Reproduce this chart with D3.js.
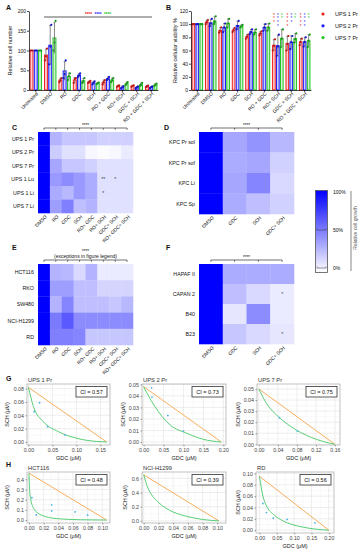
<!DOCTYPE html>
<html>
<head>
<meta charset="utf-8">
<script src="https://cdn.jsdelivr.net/npm/d3@7"></script>
<style>
  body { margin: 0; background: #fff; }
  svg { display: block; font-family: "Liberation Sans", Arial, sans-serif; }
  text { fill: #111; }
</style>
</head>
<body>
<svg id="fig" width="362" height="550"></svg>
<script>
// ---------------- Data ----------------

// Panels A / B
const treatments = ["Untreated", "DMSO", "RO", "GDC", "SCH", "RO + GDC", "RO+ SCH", "GDC + SCH", "RO + GDC + SCH"];
const lineNames = ["UPS 1 Pr", "UPS 2 Pr", "UPS 7 Pr"];
const lineColors = ["#f0201e", "#1c1cff", "#22c422"];

// relative cell number, three replicates per treatment
const cellNumberUps1 = [[100, 100, 100], [75, 85, 105], [20, 25, 30], [18, 28, 30], [18, 20, 23], [14, 20, 25], [8, 10, 12], [8, 10, 12], [7, 9, 11]];
const cellNumberUps2 = [[100, 100, 100], [65, 110, 165], [30, 40, 75], [33, 37, 42], [14, 18, 22], [25, 28, 33], [4, 7, 10], [4, 6, 9], [5, 7, 9]];
const cellNumberUps7 = [[100, 100, 100], [100, 120, 175], [25, 35, 42], [18, 22, 30], [15, 17, 19], [20, 25, 30], [12, 16, 20], [10, 13, 18], [10, 13, 16]];
const cellNumberTicks = [0, 50, 100, 150, 200];

// relative cellular viability %, three replicates per treatment
const viabilityUps1 = [[100, 100, 100], [100, 103, 106], [87, 90, 95], [88, 91, 94], [78, 81, 84], [83, 86, 89], [60, 67, 77], [60, 70, 82], [68, 73, 78]];
const viabilityUps2 = [[100, 100, 100], [97, 101, 108], [88, 95, 101], [92, 97, 105], [85, 88, 92], [90, 95, 100], [52, 66, 84], [62, 73, 82], [66, 73, 80]];
const viabilityUps7 = [[100, 100, 100], [100, 103, 112], [95, 101, 108], [95, 97, 99], [84, 87, 92], [90, 95, 101], [65, 78, 92], [72, 77, 86], [65, 75, 84]];
const viabilityTicks = [0, 20, 40, 60, 80, 100, 120];
// number of stars above the last three groups (red, blue, green)
const viabilityStars = [[3, 4, 2], [4, 3, 2], [4, 4, 2]];

// Heatmaps (relative cell growth %)
const heatCols8 = ["DMSO", "RO", "GDC", "SCH", "RO+ GDC", "RO+ SCH", "GDC+ SCH", "RO+ GDC+ SCH"];
const heatCols4 = ["DMSO", "GDC", "SCH", "GDC+ SCH"];

const upsRows = ["UPS 1 Pr", "UPS 2 Pr", "UPS 7 Pr", "UPS 1 Lu", "UPS 1 Li", "UPS 7 Li"];
const upsGrowth = [
  [100, 30, 22, 22, 22, 18, 18, 18],
  [100, 20, 12, 12, 3, 1, 3, 8],
  [100, 35, 22, 22, 18, 12, 12, 12],
  [100, 40, 45, 40, 32, 12, 12, 12],
  [100, 33, 28, 40, 32, 12, 12, 12],
  [100, 38, 50, 25, 30, 12, 12, 12]
];
const upsMarks = [[3, 5, "**"], [3, 6, "*"], [4, 5, "*"]];

const kpcRows = ["KPC Pr sol", "KPC Pr sof", "KPC Li", "KPC Sp"];
const kpcGrowth = [
  [100, 35, 42, 28],
  [100, 33, 35, 18],
  [100, 35, 48, 15],
  [100, 33, 25, 18]
];

const humanRows = ["HCT116", "RKO", "SW480", "NCI-H1299", "RD"];
const humanGrowth = [
  [100, 30, 28, 15, 30, 8, 8, 8],
  [100, 38, 38, 25, 25, 17, 17, 17],
  [100, 30, 48, 25, 25, 25, 22, 28],
  [100, 52, 65, 45, 45, 45, 45, 45],
  [100, 50, 50, 48, 22, 22, 22, 22]
];

const pancRows = ["HAPAF II", "CAPAN 2", "B40", "B23"];
const pancGrowth = [
  [100, 33, 33, 33],
  [100, 25, 15, 8],
  [100, 10, 45, 8],
  [100, 22, 15, 10]
];
const pancMarks = [[1, 3, "*"], [3, 3, "*"]];

const legendTicks = [100, 50, 0];

// Isobolograms (GDC on x, SCH on y, µM)
const isoNames = ["UPS 1 Pr", "UPS 2 Pr", "UPS 7 Pr", "HCT116", "NCI-H1299", "RD"];
const isoCI = ["0.57", "0.73", "0.75", "0.48", "0.39", "0.56"];
const gdcAlone = [0.163, 0.195, 0.16, 0.106, 0.102, 0.2];
const schAlone = [0.082, 0.048, 0.05, 0.46, 0.65, 0.095];
const isoCurves = [
  [[0, 0.082], [0.0105, 0.053], [0.031, 0.0305], [0.0625, 0.0155], [0.101, 0.0055], [0.1425, 0.0008], [0.163, 0]],
  [[0, 0.048], [0.026, 0.032], [0.067, 0.0147], [0.109, 0.0075], [0.15, 0.0023], [0.195, 0]],
  [[0, 0.05], [0.016, 0.037], [0.041, 0.025], [0.079, 0.0129], [0.121, 0.0045], [0.16, 0]],
  [[0, 0.46], [0.0008, 0.3], [0.0025, 0.2], [0.006, 0.12], [0.012, 0.07], [0.022, 0.035], [0.04, 0.013], [0.07, 0.003], [0.106, 0]],
  [[0, 0.65], [0.005, 0.48], [0.01, 0.38], [0.02, 0.26], [0.03, 0.18], [0.04, 0.125], [0.06, 0.06], [0.08, 0.02], [0.102, 0]],
  [[0, 0.095], [0.01, 0.06], [0.02, 0.043], [0.04, 0.028], [0.06, 0.019], [0.08, 0.013], [0.12, 0.006], [0.16, 0.002], [0.2, 0]]
];
const isoPoints = [
  [[0.023, 0.059], [0.012, 0.0455], [0.04, 0.023], [0.0765, 0.0105]],
  [[0.02, 0.047], [0.021, 0.039], [0.061, 0.023], [0.1, 0.0095]],
  [[0.043, 0.024], [0.081, 0.012]],
  [[0.004, 0.22], [0.01, 0.05], [0.031, 0.15], [0.031, 0.09], [0.063, 0.08], [0.08, 0.05]],
  [],
  [[0.01, 0.047], [0.02, 0.031], [0.04, 0.021], [0.08, 0.019], [0.16, 0.013]]
];
const isoXTicks = [
  [0, 0.05, 0.10, 0.15],
  [0, 0.05, 0.10, 0.15, 0.20],
  [0, 0.04, 0.08, 0.12, 0.16],
  [0, 0.02, 0.04, 0.06, 0.08, 0.10],
  [0, 0.02, 0.04, 0.06, 0.08, 0.10],
  [0, 0.05, 0.10, 0.15, 0.20]
];
const isoYTicks = [
  [0, 0.02, 0.04, 0.06, 0.08],
  [0, 0.01, 0.02, 0.03, 0.04, 0.05],
  [0, 0.01, 0.02, 0.03, 0.04, 0.05],
  [0, 0.1, 0.2, 0.3, 0.4],
  [0, 0.2, 0.4, 0.6],
  [0, 0.02, 0.04, 0.06, 0.08, 0.10]
];

// ---------------- Layout ----------------
const svg = d3.select("#fig");
const heatColor = d3.scaleLinear().domain([0, 100]).range(["#ffffff", "#0000ff"]);

function letter(t, x, y) {
  svg.append("text").attr("x", x).attr("y", y).text(t)
      .style("font-weight", "bold").style("font-size", "7px");
}

// ---------------- Bar panels ----------------
function barPanel(cfg) {
  const g = svg.append("g");
  const x = d3.scaleBand().domain(treatments).range(cfg.xRange).paddingInner(0.14).paddingOuter(0.04);
  const xs = d3.scaleBand().domain(d3.range(3)).range([0, x.bandwidth()]).paddingInner(0.08);
  const y = d3.scaleLinear().domain(cfg.yDomain).range(cfg.yRange);

  cfg.series.forEach((reps, s) => {
    const c = lineColors[s];
    const dark = d3.color(c).darker(0.7);
    reps.forEach((vals, i) => {
      const m = d3.mean(vals), sd = d3.deviation(vals) || 0;
      const x0 = x(treatments[i]) + xs(s), w = xs.bandwidth(), cx = x0 + w / 2;
      g.append("rect")
          .attr("x", x0 + 0.5).attr("y", y(m))
          .attr("width", w - 1).attr("height", y(0) - y(m))
          .attr("fill", c).attr("fill-opacity", 0.22)
          .attr("stroke", c).attr("stroke-width", 1);
      // error bar
      if (sd > 0) {
        g.append("line").attr("x1", cx).attr("x2", cx).attr("y1", y(m - sd)).attr("y2", y(m + sd))
            .attr("stroke", "#555").attr("stroke-width", 0.7);
        g.append("line").attr("x1", cx - 1).attr("x2", cx + 1).attr("y1", y(m + sd)).attr("y2", y(m + sd))
            .attr("stroke", "#555").attr("stroke-width", 0.7);
      }
      // replicates
      vals.forEach((v, k) => {
        g.append("circle").attr("cx", cx + (k - 1) * 1.1).attr("cy", y(v)).attr("r", 1.1)
            .attr("fill", dark);
      });
    });
  });

  g.append("g").attr("transform", `translate(${cfg.xRange[0]},0)`)
      .call(d3.axisLeft(y).tickValues(cfg.ticks).tickSize(2).tickSizeOuter(0))
      .call(a => a.selectAll("text").style("font-size", "5px").attr("x", -3))
      .call(a => a.selectAll("path,line").attr("stroke-width", 0.7));

  g.append("g").attr("transform", `translate(0,${y(0)})`)
      .call(d3.axisBottom(x).tickSize(2).tickSizeOuter(0))
      .call(a => a.selectAll("path,line").attr("stroke-width", 0.7))
      .call(a => a.selectAll("text")
          .attr("x", -1).attr("y", 3).attr("dy", "0.35em")
          .attr("transform", "rotate(-45)")
          .style("text-anchor", "end").style("font-size", "5px"));

  g.append("text")
      .attr("transform", `translate(${cfg.labelX},${(cfg.yRange[0] + cfg.yRange[1]) / 2}) rotate(-90)`)
      .attr("text-anchor", "middle").style("font-size", "5.5px").text(cfg.label);

  return { x, y, xs };
}

letter("A", 6, 10);
barPanel({
  series: [cellNumberUps1, cellNumberUps2, cellNumberUps7],
  xRange: [29, 158], yDomain: [0, 200], yRange: [90, 11],
  ticks: cellNumberTicks, label: "Relative cell number", labelX: 12
});
// significance line over treatments
svg.append("line").attr("x1", 44).attr("x2", 152).attr("y1", 17).attr("y2", 17)
    .attr("stroke", "#333").attr("stroke-width", 0.8);
lineColors.forEach((c, i) => {
  svg.append("text").attr("x", 88.5 + i * 9.5).attr("y", 15.5).attr("text-anchor", "middle")
      .style("font-size", "4.5px").style("font-weight", "bold").style("fill", c).text("****");
});

letter("B", 166, 10);
const bScales = barPanel({
  series: [viabilityUps1, viabilityUps2, viabilityUps7],
  xRange: [191, 311], yDomain: [0, 120], yRange: [90, 11],
  ticks: viabilityTicks, label: "Relative cellular viability %", labelX: 177
});
viabilityStars.forEach((counts, gi) => {
  const t = treatments[6 + gi];
  counts.forEach((n, s) => {
    const cx = bScales.x(t) + bScales.xs(s) + bScales.xs.bandwidth() / 2;
    d3.range(n).forEach(k => {
      svg.append("text").attr("x", cx).attr("y", 16.5 + k * 3.8).attr("text-anchor", "middle")
          .style("font-size", "4.5px").style("fill", lineColors[s]).text("*");
    });
  });
});
// legend
lineNames.forEach((n, i) => {
  svg.append("circle").attr("cx", 323).attr("cy", 14 + i * 11.8).attr("r", 1.6).attr("fill", lineColors[i]);
  svg.append("text").attr("x", 335).attr("y", 14 + i * 11.8).attr("dy", "0.35em")
      .style("font-size", "5.5px").text(n);
});

// ---------------- Heatmaps ----------------
function heatPanel(cfg) {
  const g = svg.append("g");
  const x = d3.scaleBand().domain(cfg.cols).range(cfg.xRange);
  const y = d3.scaleBand().domain(cfg.rows).range(cfg.yRange);

  cfg.values.forEach((row, r) => row.forEach((v, c) => {
    g.append("rect")
        .attr("x", x(cfg.cols[c])).attr("y", y(cfg.rows[r]))
        .attr("width", x.bandwidth() + 0.3).attr("height", y.bandwidth() + 0.3)
        .attr("fill", heatColor(v));
  }));

  cfg.rows.forEach(r => {
    g.append("text").attr("x", cfg.xRange[0] - 4).attr("y", y(r) + y.bandwidth() / 2)
        .attr("dy", "0.35em").attr("text-anchor", "end").style("font-size", "5.3px").text(r);
  });
  cfg.cols.forEach(c => {
    const cx = x(c) + x.bandwidth() / 2;
    g.append("text").attr("transform", `translate(${cx + 2},${cfg.yRange[1] + 3}) rotate(-45)`)
        .attr("text-anchor", "end").attr("dy", "0.35em").style("font-size", "4.8px").text(c);
  });

  (cfg.marks || []).forEach(([r, c, t]) => {
    g.append("text").attr("x", x(cfg.cols[c]) + x.bandwidth() / 2).attr("y", y(cfg.rows[r]) + y.bandwidth() / 2 + 2)
        .attr("text-anchor", "middle").style("font-size", "5px").style("fill", "#333").text(t);
  });

  // bracket
  const by = cfg.yRange[0] - 4;
  const x1 = x(cfg.cols[0]) + x.bandwidth() / 2;
  const x2 = x(cfg.cols[cfg.cols.length - 1]) + x.bandwidth() / 2;
  g.append("line").attr("x1", x1).attr("x2", x2).attr("y1", by).attr("y2", by)
      .attr("stroke", "#333").attr("stroke-width", 0.7);
  cfg.cols.forEach(c => {
    const cx = x(c) + x.bandwidth() / 2;
    g.append("line").attr("x1", cx).attr("x2", cx).attr("y1", by).attr("y2", by + 1.8)
        .attr("stroke", "#333").attr("stroke-width", 0.7);
  });
  const mid = (x1 + x2) / 2;
  if (cfg.note) {
    g.append("text").attr("x", mid).attr("y", by - 2).attr("text-anchor", "middle")
        .style("font-size", "5px").text(cfg.note);
    g.append("text").attr("x", mid).attr("y", by - 7.5).attr("text-anchor", "middle")
        .style("font-size", "4.5px").text("****");
  } else {
    g.append("text").attr("x", mid).attr("y", by - 1.5).attr("text-anchor", "middle")
        .style("font-size", "4.5px").text("****");
  }
}

letter("C", 12, 130);
heatPanel({ cols: heatCols8, rows: upsRows, values: upsGrowth, marks: upsMarks,
  xRange: [38, 133], yRange: [132, 213] });

letter("D", 164, 130);
heatPanel({ cols: heatCols4, rows: kpcRows, values: kpcGrowth,
  xRange: [199, 294], yRange: [132, 214] });

letter("E", 12, 250);
heatPanel({ cols: heatCols8, rows: humanRows, values: humanGrowth, note: "(exceptions in figure legend)",
  xRange: [38, 133], yRange: [264, 345] });

letter("F", 166, 250);
heatPanel({ cols: heatCols4, rows: pancRows, values: pancGrowth, marks: pancMarks,
  xRange: [199, 294], yRange: [264, 344] });

// colour legend
const grad = svg.append("defs").append("linearGradient").attr("id", "growthGrad")
    .attr("x1", 0).attr("x2", 0).attr("y1", 0).attr("y2", 1);
grad.append("stop").attr("offset", "0%").attr("stop-color", heatColor(100));
grad.append("stop").attr("offset", "100%").attr("stop-color", heatColor(0));
const ly = d3.scaleLinear().domain([0, 100]).range([268, 192]);
svg.append("rect").attr("x", 315.5).attr("y", 190.5).attr("width", 12).attr("height", 82)
    .attr("fill", "url(#growthGrad)").attr("stroke", "#555").attr("stroke-width", 0.8);
legendTicks.forEach(v => {
  svg.append("text").attr("x", 333).attr("y", ly(v)).attr("dy", "0.35em")
      .style("font-size", "5px").text(v + "%");
  if (v < 100) {
    svg.append("path").attr("d", `M317,${ly(v) - 1.5}V${ly(v)}H326V${ly(v) - 1.5}`)
        .attr("fill", "none").attr("stroke", "#333").attr("stroke-width", 0.5);
  }
});
svg.append("line").attr("x1", 351).attr("x2", 351).attr("y1", 191).attr("y2", 271)
    .attr("stroke", "#555").attr("stroke-width", 0.7);
svg.append("text").attr("transform", "translate(357,228) rotate(-90)").attr("text-anchor", "middle")
    .style("font-size", "5px").style("fill", "#555").text("Relative cell growth");

// ---------------- Isobolograms ----------------
const isoLayout = [
  { box: [27, 110, 384, 445], xd: [-0.003, 0.17], yd: [-0.0045, 0.087], fx: ".2f", fy: ".2f", yl: 9 },
  { box: [142, 226, 384, 445], xd: [-0.004, 0.2068], yd: [-0.0026, 0.0503], fx: ".2f", fy: ".2f", yl: 125 },
  { box: [257, 340, 384, 445], xd: [-0.004, 0.1707], yd: [-0.0006, 0.0545], fx: ".2f", fy: ".2f", yl: 240 },
  { box: [27, 110, 472, 523], xd: [-0.0027, 0.1105], yd: [-0.029, 0.472], fx: ".2f", fy: ".1f", yl: 9 },
  { box: [142, 226, 472, 523], xd: [-0.0024, 0.1118], yd: [-0.03, 0.69], fx: ".2f", fy: ".1f", yl: 127 },
  { box: [256, 334, 472, 533], xd: [-0.01, 0.215], yd: [-0.005, 0.1025], fx: ".2f", fy: ".2f", yl: 240 }
];

function mids(t) { return d3.pairs(t).map(([a, b]) => (a + b) / 2); }

function isoPanel(i) {
  const L = isoLayout[i];
  const [bx0, bx1, by0, by1] = L.box;
  const x = d3.scaleLinear().domain(L.xd).range([bx0, bx1]);
  const y = d3.scaleLinear().domain(L.yd).range([by1, by0]);
  const g = svg.append("g");

  g.append("rect").attr("x", bx0).attr("y", by0).attr("width", bx1 - bx0).attr("height", by1 - by0).attr("fill", "#fff");
  mids(isoXTicks[i]).forEach(v => g.append("line").attr("x1", x(v)).attr("x2", x(v)).attr("y1", by0).attr("y2", by1)
      .attr("stroke", "#f0f0f0").attr("stroke-width", 0.4));
  mids(isoYTicks[i]).forEach(v => g.append("line").attr("y1", y(v)).attr("y2", y(v)).attr("x1", bx0).attr("x2", bx1)
      .attr("stroke", "#f0f0f0").attr("stroke-width", 0.4));
  isoXTicks[i].forEach(v => g.append("line").attr("x1", x(v)).attr("x2", x(v)).attr("y1", by0).attr("y2", by1)
      .attr("stroke", "#e2e2e2").attr("stroke-width", 0.6));
  isoYTicks[i].forEach(v => g.append("line").attr("y1", y(v)).attr("y2", y(v)).attr("x1", bx0).attr("x2", bx1)
      .attr("stroke", "#e2e2e2").attr("stroke-width", 0.6));

  // additive line
  g.append("line").attr("x1", x(0)).attr("y1", y(schAlone[i])).attr("x2", x(gdcAlone[i])).attr("y2", y(0))
      .attr("stroke", "#f5a64a").attr("stroke-width", 0.9);
  // fitted isobole
  g.append("path").datum(isoCurves[i])
      .attr("d", d3.line().x(d => x(d[0])).y(d => y(d[1])).curve(d3.curveMonotoneX))
      .attr("fill", "none").attr("stroke", "#45c867").attr("stroke-width", 0.9);
  isoPoints[i].forEach(p => g.append("circle").attr("cx", x(p[0])).attr("cy", y(p[1])).attr("r", 0.9)
      .attr("fill", "#4fb6e8"));

  g.append("rect").attr("x", bx0).attr("y", by0).attr("width", bx1 - bx0).attr("height", by1 - by0)
      .attr("fill", "none").attr("stroke", "#a8a8a8").attr("stroke-width", 0.7);

  g.append("g").attr("transform", `translate(0,${by1})`)
      .call(d3.axisBottom(x).tickValues(isoXTicks[i]).tickFormat(d3.format(L.fx)).tickSize(1.5))
      .call(a => a.select(".domain").remove())
      .call(a => a.selectAll("line").attr("stroke", "#444").attr("stroke-width", 0.5))
      .call(a => a.selectAll("text").attr("y", 3).style("font-size", "5.3px").style("fill", "#444"));
  g.append("g").attr("transform", `translate(${bx0},0)`)
      .call(d3.axisLeft(y).tickValues(isoYTicks[i]).tickFormat(d3.format(L.fy)).tickSize(1.5))
      .call(a => a.select(".domain").remove())
      .call(a => a.selectAll("line").attr("stroke", "#444").attr("stroke-width", 0.5))
      .call(a => a.selectAll("text").attr("x", -3).style("font-size", "5.3px").style("fill", "#444"));

  g.append("text").attr("x", (bx0 + bx1) / 2).attr("y", by1 + 15).attr("text-anchor", "middle")
      .style("font-size", "5.5px").style("fill", "#222").text("GDC (\u03bcM)");
  g.append("text").attr("transform", `translate(${L.yl},${(by0 + by1) / 2}) rotate(-90)`)
      .attr("text-anchor", "middle").style("font-size", "5.5px").style("fill", "#222").text("SCH (\u03bcM)");
  g.append("text").attr("x", bx0 + 1).attr("y", by0 - 2).style("font-size", "5.8px").style("fill", "#333")
      .text(isoNames[i]);

  // CI box
  const cw = 31, ch = 10.5;
  g.append("rect").attr("x", bx1 - cw - 3).attr("y", by0 + 2.5).attr("width", cw).attr("height", ch)
      .attr("fill", "#fff").attr("stroke", "#333").attr("stroke-width", 0.8);
  g.append("text").attr("x", bx1 - 3 - cw / 2).attr("y", by0 + 2.5 + ch / 2).attr("dy", "0.35em")
      .attr("text-anchor", "middle").style("font-size", "5.5px").text("CI = " + isoCI[i]);
}

letter("G", 6, 381);
letter("H", 6, 467);
d3.range(6).forEach(isoPanel);
</script>
</body>
</html>
